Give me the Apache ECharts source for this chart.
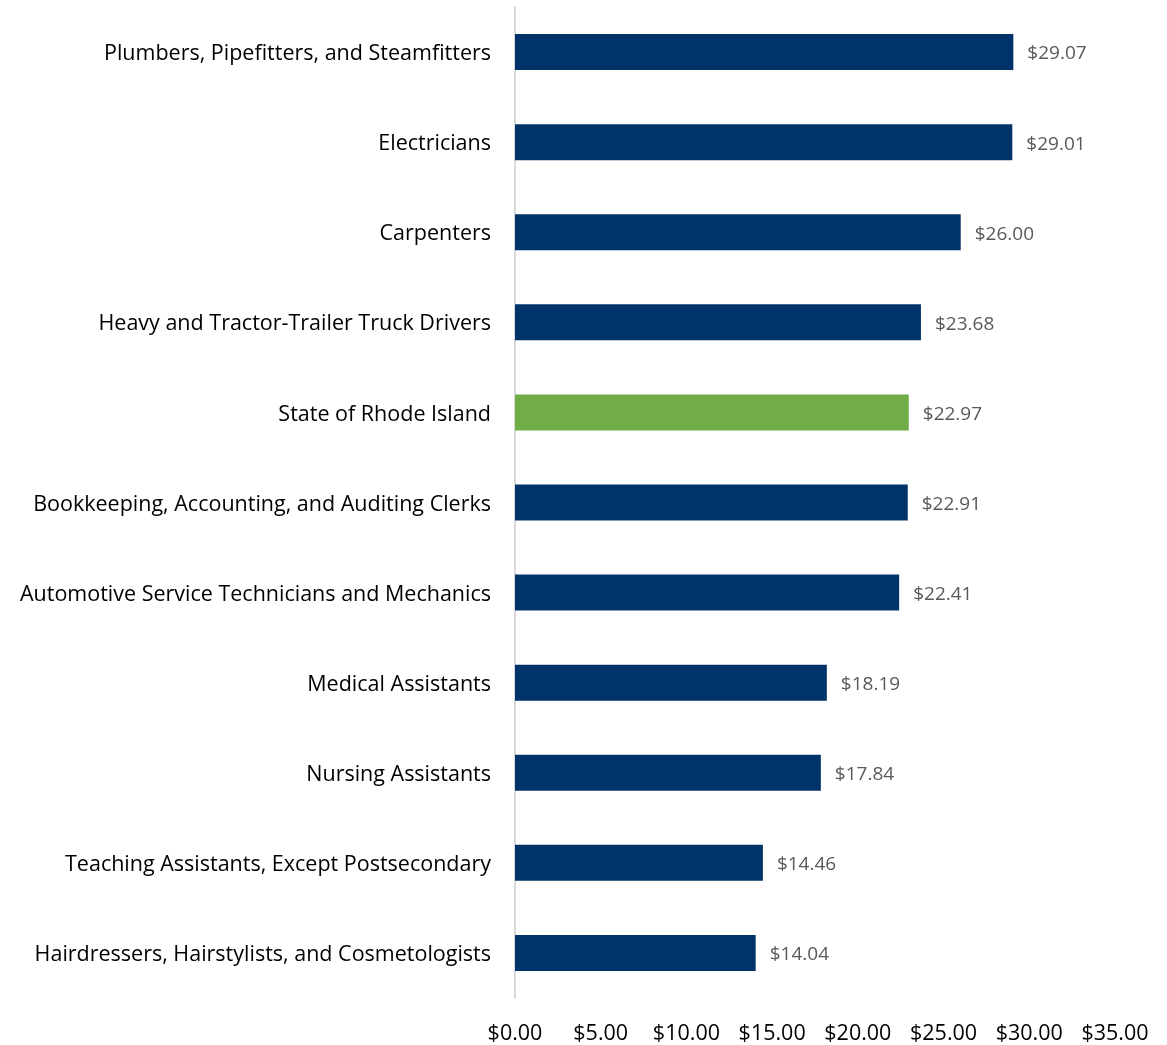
<!DOCTYPE html>
<html>
<head>
<meta charset="utf-8">
<script src="https://cdn.jsdelivr.net/npm/echarts@6/dist/echarts.min.js"></script>
<style>
  html, body { margin: 0; padding: 0; background: #fff; }
  #chart { width: 1167px; height: 1045px; }
</style>
</head>
<body>
<div id="chart"></div>
<script>
// Median hourly wage by occupation, top to bottom
const occupations = [
  'Plumbers, Pipefitters, and Steamfitters',
  'Electricians',
  'Carpenters',
  'Heavy and Tractor-Trailer Truck Drivers',
  'State of Rhode Island',
  'Bookkeeping, Accounting, and Auditing Clerks',
  'Automotive Service Technicians and Mechanics',
  'Medical Assistants',
  'Nursing Assistants',
  'Teaching Assistants, Except Postsecondary',
  'Hairdressers, Hairstylists, and Cosmetologists'
];
const wages = [29.07, 29.01, 26.00, 23.68, 22.97, 22.91, 22.41, 18.19, 17.84, 14.46, 14.04];
const highlighted = 'State of Rhode Island';

const NAVY = '#00336a';
const GREEN = '#70ad47';
const FONT = '"Open Sans", "Noto Sans", sans-serif';

const chart = echarts.init(document.getElementById('chart'));
chart.setOption({
  animation: false,
  grid: { left: 515, right: 52, top: 7, bottom: 46 },
  xAxis: {
    type: 'value',
    min: 0,
    max: 35,
    interval: 5,
    axisLine: { show: false },
    axisTick: { show: false },
    splitLine: { show: false },
    axisLabel: {
      margin: 25,
      color: '#000',
      fontFamily: FONT,
      fontSize: 21.5,
      formatter: v => '$' + v.toFixed(2)
    }
  },
  yAxis: {
    type: 'category',
    inverse: true,
    data: occupations,
    axisLine: { show: true, lineStyle: { color: '#d9d9d9', width: 2 } },
    axisTick: { show: false },
    axisLabel: {
      margin: 24,
      formatter: v => '{n|' + v + '}',
      rich: {
        n: {
          color: '#000',
          fontFamily: FONT,
          fontSize: 21.5,
          padding: [4, 0, 0, 0]
        }
      }
    }
  },
  series: [{
    type: 'bar',
    barWidth: 36,
    data: wages.map((v, i) => ({
      value: v,
      itemStyle: { color: occupations[i] === highlighted ? GREEN : NAVY }
    })),
    label: {
      show: true,
      position: 'right',
      distance: 14,
      offset: [0, 2],
      color: '#595959',
      fontFamily: FONT,
      fontSize: 19,
      formatter: p => '$' + p.value.toFixed(2)
    }
  }]
});
</script>
</body>
</html>
